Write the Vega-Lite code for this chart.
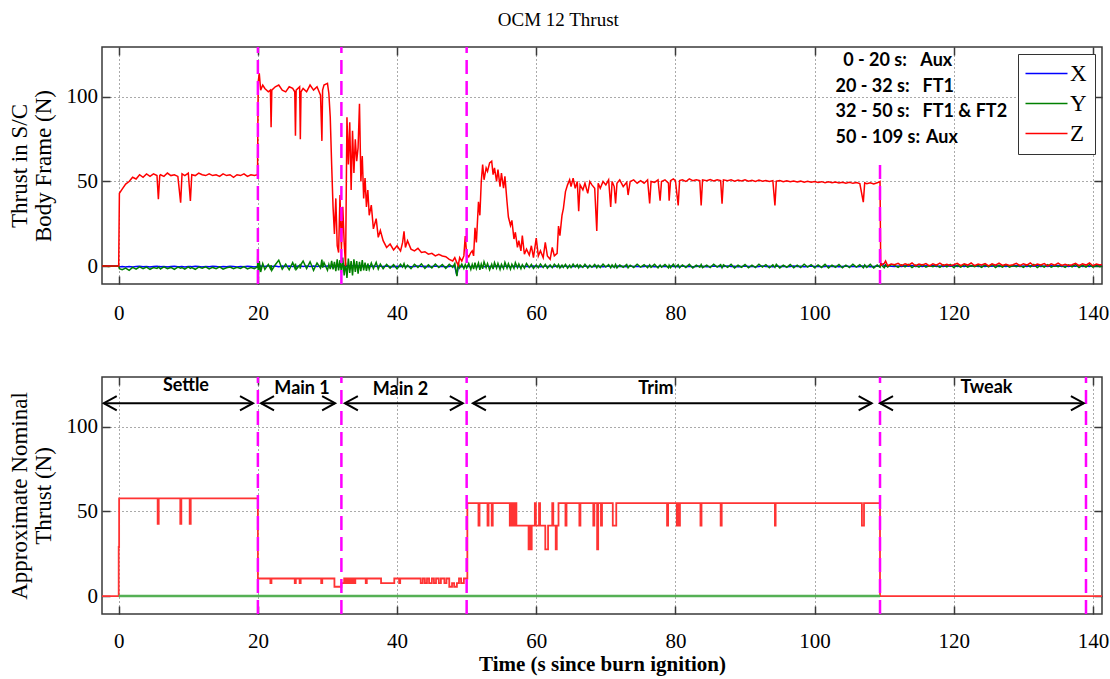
{
  "$schema": "https://vega.github.io/schema/vega-lite/v6.json",
  "background": "white",
  "padding": {"left": 7, "top": 11, "right": 8, "bottom": 5},
  "title": {"text": "OCM 12 Thrust", "font": "Liberation Serif", "fontSize": 19, "fontWeight": "normal", "color": "black", "offset": 15, "anchor": "middle"},
  "config": {
    "view": {"stroke": "#3a3a3a", "strokeWidth": 1.5},
    "axis": {
      "labelFont": "Liberation Serif", "labelFontSize": 21, "labelColor": "black",
      "titleFont": "Liberation Serif", "titleFontSize": 23, "titleFontWeight": "normal", "titleColor": "black",
      "domain": false, "tickSize": -8, "tickColor": "#3a3a3a", "tickWidth": 1.5,
      "grid": true, "gridDash": [1, 3], "gridColor": "#555555", "gridOpacity": 1, "gridWidth": 1
    },
    "legend": {
      "title": null, "orient": "top-right", "offset": 7, "symbolType": "M-3.5,0L3.5,0", "symbolSize": 144,
      "symbolOffset": 9, "symbolStrokeWidth": 1.5, "labelFont": "Liberation Serif", "labelFontSize": 23, "labelColor": "black",
      "labelOffset": 12, "padding": 8, "rowPadding": 6, "strokeColor": "#333333", "fillColor": "white"
    }
  },
  "datasets": {
    "top": [
      {"t":-2.5,"X":0,"Y":0,"Z":0},{"t":-2,"X":0,"Y":0.2,"Z":0},{"t":-1.5,"X":0,"Y":-0.2,"Z":0},{"t":-1,"X":0,"Y":0.1,"Z":0},{"t":-0.5,"X":0,"Y":-0.1,"Z":0},{"t":0,"X":0,"Y":0,"Z":0},
      {"t":0.1,"X":-0.5,"Y":-1.5,"Z":43},{"t":0.5,"X":-0.3,"Y":-2.2,"Z":45.5},{"t":1,"X":-0.6,"Y":-1.2,"Z":48.5},{"t":1.5,"X":-0.2,"Y":-2.5,"Z":50},{"t":2,"X":-0.5,"Y":-0.8,"Z":52.5},{"t":2.5,"X":-0.3,"Y":-1.8,"Z":51.5},{"t":3,"X":-0.1,"Y":-0.5,"Z":54},{"t":3.5,"X":-0.4,"Y":-1.6,"Z":52.5},{"t":4,"X":-0.2,"Y":-0.6,"Z":54.5},{"t":4.5,"X":-0.5,"Y":-1.9,"Z":53},{"t":5,"X":-0.3,"Y":-0.9,"Z":54.5},{"t":5.5,"X":-0.1,"Y":-1.4,"Z":53.5},{"t":5.7,"X":-0.3,"Y":-0.7,"Z":39.5},{"t":5.9,"X":-0.2,"Y":-1.2,"Z":53.5},{"t":6,"X":-0.4,"Y":-1.7,"Z":54},{"t":6.5,"X":-0.2,"Y":-0.4,"Z":53},{"t":7,"X":-0.5,"Y":-1.5,"Z":55},{"t":7.5,"X":-0.3,"Y":-0.8,"Z":53.5},{"t":8,"X":-0.1,"Y":-2,"Z":54},{"t":8.5,"X":-0.4,"Y":-0.6,"Z":53},{"t":8.9,"X":-0.3,"Y":-1.3,"Z":37.5},{"t":9.1,"X":-0.2,"Y":-0.9,"Z":54.5},{"t":9.5,"X":-0.5,"Y":-1.8,"Z":53.5},{"t":10,"X":-0.3,"Y":-0.5,"Z":55},{"t":10.3,"X":-0.2,"Y":-1.4,"Z":38.5},{"t":10.5,"X":-0.4,"Y":-0.9,"Z":54},{"t":11,"X":-0.1,"Y":-1.9,"Z":53.5},{"t":11.5,"X":-0.3,"Y":-0.6,"Z":55},{"t":12,"X":-0.5,"Y":-1.3,"Z":54},{"t":12.5,"X":-0.2,"Y":-0.4,"Z":53.5},{"t":13,"X":-0.4,"Y":-1.7,"Z":54.5},{"t":13.5,"X":-0.1,"Y":-0.8,"Z":53.5},{"t":14,"X":-0.3,"Y":-1.5,"Z":54},{"t":14.5,"X":-0.5,"Y":-0.5,"Z":53},{"t":15,"X":-0.2,"Y":-1.8,"Z":54.5},{"t":15.5,"X":-0.4,"Y":-1,"Z":53.5},{"t":16,"X":-0.1,"Y":-0.6,"Z":54},{"t":16.5,"X":-0.3,"Y":-1.6,"Z":52.5},{"t":17,"X":-0.5,"Y":-0.7,"Z":54},{"t":17.5,"X":-0.2,"Y":-1.4,"Z":53.5},{"t":18,"X":-0.4,"Y":-0.3,"Z":54.5},{"t":18.5,"X":-0.1,"Y":-1.7,"Z":53},{"t":19,"X":-0.3,"Y":-0.9,"Z":54},{"t":19.5,"X":-0.5,"Y":-1.5,"Z":53.5},{"t":19.95,"X":-0.2,"Y":-0.5,"Z":54},
      {"t":20,"X":1.5,"Y":10,"Z":85},{"t":20.05,"X":-1,"Y":-7.5,"Z":109},{"t":20.2,"X":0.8,"Y":3,"Z":114},{"t":20.4,"X":-0.4,"Y":-3.5,"Z":104},{"t":20.7,"X":0.3,"Y":1.5,"Z":107},{"t":21,"X":-0.3,"Y":-2,"Z":105},{"t":21.5,"X":0.2,"Y":1,"Z":103},{"t":21.8,"X":-0.2,"Y":-1.5,"Z":104},{"t":21.9,"X":-0.1,"Y":0.5,"Z":82},{"t":22,"X":-0.3,"Y":-2.5,"Z":104},{"t":22.5,"X":0.1,"Y":0.8,"Z":106},{"t":23,"X":-0.4,"Y":3.5,"Z":107},{"t":23.5,"X":0,"Y":-1.8,"Z":104},{"t":24,"X":-0.2,"Y":1.2,"Z":103},{"t":24.5,"X":0.1,"Y":-2.2,"Z":106},{"t":25,"X":-0.3,"Y":2,"Z":105},{"t":25.3,"X":-0.1,"Y":-1,"Z":103},{"t":25.4,"X":0,"Y":1.5,"Z":77},{"t":25.5,"X":-0.2,"Y":-2,"Z":104},{"t":26,"X":0.1,"Y":0.5,"Z":106},{"t":26.1,"X":-0.2,"Y":-1.5,"Z":75},{"t":26.2,"X":0,"Y":1,"Z":103},{"t":26.5,"X":-0.3,"Y":3,"Z":105},{"t":27,"X":0.1,"Y":-1.5,"Z":103},{"t":27.5,"X":-0.2,"Y":2.5,"Z":107},{"t":28,"X":0,"Y":-2.5,"Z":104},{"t":28.5,"X":-0.3,"Y":1.8,"Z":106},{"t":29,"X":0.1,"Y":-1.2,"Z":101},{"t":29.2,"X":-0.1,"Y":3.8,"Z":74},{"t":29.3,"X":0,"Y":-1,"Z":104},{"t":29.5,"X":-0.2,"Y":2,"Z":107},{"t":30,"X":0.1,"Y":-2.5,"Z":108},{"t":30.2,"X":-0.2,"Y":1,"Z":102},{"t":30.4,"X":0,"Y":-1.8,"Z":88},{"t":30.6,"X":-0.3,"Y":3,"Z":60},{"t":30.8,"X":0.2,"Y":-2,"Z":35},{"t":31,"X":-0.4,"Y":2.5,"Z":19},{"t":31.2,"X":0.3,"Y":-3,"Z":40},{"t":31.4,"X":-0.2,"Y":4,"Z":12},{"t":31.6,"X":0.1,"Y":-2.5,"Z":8},{"t":31.8,"X":-0.5,"Y":3.5,"Z":42},{"t":32,"X":0.4,"Y":-4,"Z":10},{"t":32.2,"X":-0.3,"Y":5,"Z":35},{"t":32.4,"X":0.2,"Y":-5.5,"Z":14},{"t":32.6,"X":-0.4,"Y":2,"Z":0},{"t":32.8,"X":0.3,"Y":-7,"Z":88},{"t":33,"X":-0.2,"Y":4.5,"Z":60},{"t":33.2,"X":0.1,"Y":-4,"Z":85},{"t":33.4,"X":-0.3,"Y":3,"Z":45},{"t":33.6,"X":0.2,"Y":-5.5,"Z":80},{"t":33.8,"X":-0.1,"Y":4,"Z":55},{"t":34,"X":0.3,"Y":-3.5,"Z":75},{"t":34.2,"X":-0.4,"Y":3,"Z":62},{"t":34.4,"X":0.1,"Y":-4.5,"Z":70},{"t":34.6,"X":-0.2,"Y":2.5,"Z":96},{"t":34.8,"X":0.2,"Y":-3,"Z":50},{"t":35,"X":-0.3,"Y":3.5,"Z":65},{"t":35.2,"X":0.1,"Y":-2.5,"Z":40},{"t":35.4,"X":-0.2,"Y":2,"Z":52},{"t":35.6,"X":0,"Y":-2.8,"Z":35},{"t":35.8,"X":-0.3,"Y":1.5,"Z":45},{"t":36,"X":0.1,"Y":-2,"Z":30},{"t":36.3,"X":-0.2,"Y":1.8,"Z":36},{"t":36.6,"X":0,"Y":-1.5,"Z":22},{"t":37,"X":-0.3,"Y":2.2,"Z":28},{"t":37.3,"X":0.1,"Y":-1.8,"Z":17},{"t":37.6,"X":-0.1,"Y":1.2,"Z":21},{"t":38,"X":-0.3,"Y":-1.5,"Z":15},{"t":38.5,"X":0,"Y":1,"Z":11},{"t":39,"X":-0.2,"Y":-1.2,"Z":13},{"t":39.5,"X":-0.4,"Y":0.8,"Z":9.5},{"t":40,"X":-0.1,"Y":-1.6,"Z":12},{"t":40.5,"X":-0.3,"Y":1.1,"Z":9},{"t":40.8,"X":-0.2,"Y":-0.6,"Z":14},{"t":41,"X":0,"Y":1.4,"Z":20.5},{"t":41.2,"X":-0.3,"Y":-1.2,"Z":11},{"t":41.5,"X":-0.1,"Y":0.6,"Z":15},{"t":42,"X":-0.4,"Y":-1.5,"Z":10},{"t":42.5,"X":-0.2,"Y":1,"Z":9},{"t":43,"X":0,"Y":-0.8,"Z":10.5},{"t":43.5,"X":-0.3,"Y":1.3,"Z":8},{"t":44,"X":-0.1,"Y":-1.4,"Z":8.5},{"t":44.5,"X":-0.4,"Y":0.7,"Z":7},{"t":45,"X":-0.2,"Y":-1.1,"Z":7.5},{"t":45.5,"X":0,"Y":1.2,"Z":6},{"t":46,"X":-0.3,"Y":-0.9,"Z":7},{"t":46.5,"X":-0.1,"Y":0.9,"Z":6},{"t":47,"X":-0.4,"Y":-1.3,"Z":5.5},{"t":47.5,"X":-0.2,"Y":1,"Z":4},{"t":48,"X":0,"Y":-0.7,"Z":3},{"t":48.3,"X":-0.5,"Y":1.5,"Z":5},{"t":48.6,"X":-5.5,"Y":-6,"Z":2},{"t":48.8,"X":-0.3,"Y":1.8,"Z":0.5},{"t":49,"X":-0.1,"Y":-1,"Z":5},{"t":49.3,"X":-0.4,"Y":1.2,"Z":3},{"t":49.6,"X":-0.2,"Y":-1.5,"Z":6},{"t":49.8,"X":0,"Y":0.8,"Z":17.7},
      {"t":50,"X":-0.3,"Y":-1.2,"Z":7},{"t":50.3,"X":-0.1,"Y":1.5,"Z":5.5},{"t":50.6,"X":-0.4,"Y":-2,"Z":8},{"t":50.8,"X":0,"Y":1,"Z":9},{"t":51,"X":-0.3,"Y":-1.8,"Z":6},{"t":51.2,"X":-0.1,"Y":2,"Z":22.6},{"t":51.4,"X":-0.4,"Y":-1.5,"Z":14},{"t":51.7,"X":-0.2,"Y":1.8,"Z":38},{"t":51.9,"X":0,"Y":-2.2,"Z":30},{"t":52.1,"X":-0.3,"Y":1.2,"Z":50},{"t":52.3,"X":-0.1,"Y":-1.6,"Z":60},{"t":52.5,"X":-0.4,"Y":2.5,"Z":51},{"t":52.8,"X":-0.2,"Y":-1,"Z":58},{"t":53,"X":0,"Y":1.5,"Z":56},{"t":53.3,"X":-0.3,"Y":-2.2,"Z":61},{"t":53.6,"X":-0.1,"Y":1,"Z":62},{"t":53.8,"X":-0.4,"Y":-1.8,"Z":54},{"t":54,"X":-0.2,"Y":2,"Z":58},{"t":54.3,"X":0,"Y":-1.2,"Z":50},{"t":54.5,"X":-0.3,"Y":1.6,"Z":57},{"t":54.8,"X":-0.1,"Y":-2,"Z":47},{"t":55,"X":-0.4,"Y":1,"Z":55},{"t":55.3,"X":-0.2,"Y":-1.5,"Z":46},{"t":55.5,"X":0,"Y":2.2,"Z":53},{"t":55.8,"X":-0.3,"Y":-1.2,"Z":38},{"t":56,"X":-0.1,"Y":1.4,"Z":29},{"t":56.3,"X":-0.4,"Y":-1.8,"Z":24},{"t":56.5,"X":-0.2,"Y":1,"Z":27},{"t":56.8,"X":0,"Y":-1.4,"Z":16},{"t":57,"X":-0.3,"Y":2,"Z":20},{"t":57.3,"X":-0.1,"Y":-1,"Z":11},{"t":57.5,"X":-0.4,"Y":1.2,"Z":15},{"t":57.8,"X":-0.2,"Y":-1.6,"Z":9},{"t":58,"X":0,"Y":0.8,"Z":18},{"t":58.3,"X":-0.3,"Y":-1.2,"Z":7},{"t":58.6,"X":-0.1,"Y":1.5,"Z":10},{"t":59,"X":-0.4,"Y":-0.8,"Z":6.5},{"t":59.3,"X":-0.2,"Y":1,"Z":12},{"t":59.6,"X":0,"Y":-1.4,"Z":5},{"t":60,"X":-0.3,"Y":0.6,"Z":16.5},{"t":60.3,"X":-0.1,"Y":-1,"Z":6},{"t":60.6,"X":-0.4,"Y":1.2,"Z":9},{"t":61,"X":-0.2,"Y":-0.8,"Z":5},{"t":61.3,"X":0,"Y":1,"Z":14},{"t":61.6,"X":-0.3,"Y":-1.2,"Z":6},{"t":62,"X":-0.1,"Y":0.7,"Z":4},{"t":62.3,"X":-0.4,"Y":-0.9,"Z":11},{"t":62.6,"X":-0.2,"Y":1.1,"Z":6},{"t":63,"X":0,"Y":-0.7,"Z":7.5},{"t":63.2,"X":-0.3,"Y":0.9,"Z":23.6},{"t":63.4,"X":-0.1,"Y":-1.1,"Z":18},{"t":63.7,"X":-0.4,"Y":0.6,"Z":30},{"t":63.9,"X":-0.2,"Y":-0.8,"Z":34},{"t":64.2,"X":0,"Y":1,"Z":44},{"t":64.5,"X":-0.3,"Y":-1.2,"Z":48},{"t":64.8,"X":-0.1,"Y":0.5,"Z":51},{"t":65,"X":-0.4,"Y":-0.9,"Z":47},{"t":65.3,"X":-0.2,"Y":1.1,"Z":52},{"t":65.6,"X":0,"Y":-0.6,"Z":46},{"t":65.9,"X":-0.3,"Y":0.8,"Z":50},{"t":66.1,"X":-0.1,"Y":-1,"Z":32.5},{"t":66.3,"X":-0.4,"Y":0.7,"Z":48},{"t":66.7,"X":-0.2,"Y":-0.8,"Z":45},{"t":67,"X":0,"Y":1,"Z":49},{"t":67.4,"X":-0.3,"Y":-1.1,"Z":43},{"t":67.7,"X":-0.1,"Y":0.6,"Z":50},{"t":68,"X":-0.4,"Y":-0.7,"Z":48},{"t":68.4,"X":-0.2,"Y":0.9,"Z":46},{"t":68.7,"X":0,"Y":-1,"Z":20.7},{"t":68.9,"X":-0.3,"Y":0.5,"Z":49},{"t":69.2,"X":-0.1,"Y":-0.9,"Z":46},{"t":69.6,"X":-0.4,"Y":1.1,"Z":50},{"t":70,"X":-0.2,"Y":-0.6,"Z":48},{"t":70.4,"X":0,"Y":0.8,"Z":51},{"t":70.7,"X":-0.3,"Y":-1,"Z":35},{"t":70.9,"X":-0.1,"Y":0.7,"Z":50},{"t":71.2,"X":-0.4,"Y":-0.8,"Z":47},{"t":71.4,"X":-0.2,"Y":1,"Z":37},{"t":71.6,"X":0,"Y":-1.1,"Z":49},{"t":72,"X":-0.3,"Y":0.6,"Z":51},{"t":72.5,"X":-0.1,"Y":-0.7,"Z":47},{"t":73,"X":-0.4,"Y":0.9,"Z":49.5},{"t":73.2,"X":-0.2,"Y":-1,"Z":42},{"t":73.5,"X":0,"Y":0.5,"Z":50},{"t":74,"X":-0.3,"Y":-0.9,"Z":51},{"t":74.5,"X":-0.1,"Y":1.1,"Z":49},{"t":75,"X":-0.4,"Y":-0.6,"Z":50.5},{"t":75.5,"X":-0.2,"Y":0.8,"Z":49},{"t":76,"X":0,"Y":-1,"Z":51},{"t":76.3,"X":-0.3,"Y":0.7,"Z":37},{"t":76.5,"X":-0.1,"Y":-0.8,"Z":50},{"t":77,"X":-0.4,"Y":1,"Z":49.5},{"t":77.5,"X":-0.2,"Y":-1.1,"Z":51},{"t":77.8,"X":0,"Y":0.6,"Z":38.6},{"t":78,"X":-0.3,"Y":-0.7,"Z":50},{"t":78.5,"X":-0.1,"Y":0.9,"Z":51},{"t":79,"X":-0.4,"Y":-1,"Z":49},{"t":79.1,"X":-0.2,"Y":0.5,"Z":38.6},{"t":79.3,"X":0,"Y":-0.9,"Z":50.5},{"t":79.7,"X":-0.3,"Y":1.1,"Z":51.5},{"t":80,"X":-0.1,"Y":-0.6,"Z":50.5},{"t":80.4,"X":-0.4,"Y":0.8,"Z":35.8},{"t":80.6,"X":-0.2,"Y":-1,"Z":50.5},{"t":81,"X":0,"Y":0.7,"Z":51},{"t":81.5,"X":-0.3,"Y":-0.8,"Z":50},{"t":82,"X":-0.1,"Y":1,"Z":51.5},{"t":82.5,"X":-0.4,"Y":-1.1,"Z":50.5},{"t":83,"X":-0.2,"Y":0.6,"Z":51},{"t":83.5,"X":0,"Y":-0.7,"Z":50.5},{"t":83.7,"X":-0.3,"Y":0.9,"Z":35.8},{"t":83.9,"X":-0.1,"Y":-1,"Z":51},{"t":84.5,"X":-0.4,"Y":0.5,"Z":50.5},{"t":85,"X":-0.2,"Y":-0.9,"Z":51.2},{"t":85.5,"X":0,"Y":1.1,"Z":50.3},{"t":86,"X":-0.3,"Y":-0.6,"Z":51},{"t":86.5,"X":-0.1,"Y":0.8,"Z":50.5},{"t":86.7,"X":-0.4,"Y":-1,"Z":36.8},{"t":86.9,"X":-0.2,"Y":0.7,"Z":51},{"t":87.5,"X":0,"Y":-0.8,"Z":50.5},{"t":88,"X":-0.3,"Y":1,"Z":51},{"t":88.5,"X":-0.1,"Y":-1.1,"Z":50.2},{"t":89,"X":-0.4,"Y":0.6,"Z":50.8},{"t":89.5,"X":-0.2,"Y":-0.7,"Z":50.3},{"t":90,"X":0,"Y":0.9,"Z":51},{"t":90.5,"X":-0.3,"Y":-1,"Z":50.2},{"t":91,"X":-0.1,"Y":0.5,"Z":50.7},{"t":91.5,"X":-0.4,"Y":-0.9,"Z":50},{"t":92,"X":-0.2,"Y":1.1,"Z":50.8},{"t":92.5,"X":0,"Y":-0.6,"Z":50.1},{"t":93,"X":-0.3,"Y":0.8,"Z":50.6},{"t":93.5,"X":-0.1,"Y":-1,"Z":50},{"t":94,"X":-0.4,"Y":0.7,"Z":50.5},{"t":94.3,"X":-0.2,"Y":-0.8,"Z":35.8},{"t":94.5,"X":0,"Y":1,"Z":50.2},{"t":95,"X":-0.3,"Y":-1.1,"Z":50.6},{"t":95.5,"X":-0.1,"Y":0.6,"Z":49.9},{"t":96,"X":-0.4,"Y":-0.7,"Z":50.4},{"t":96.5,"X":-0.2,"Y":0.9,"Z":49.8},{"t":97,"X":0,"Y":-1,"Z":50.3},{"t":97.5,"X":-0.3,"Y":0.5,"Z":49.7},{"t":98,"X":-0.1,"Y":-0.9,"Z":50.2},{"t":98.5,"X":-0.4,"Y":1.1,"Z":49.6},{"t":99,"X":-0.2,"Y":-0.6,"Z":50.1},{"t":99.5,"X":0,"Y":0.8,"Z":49.5},{"t":100,"X":-0.3,"Y":-1,"Z":50},{"t":100.5,"X":-0.1,"Y":0.7,"Z":49.4},{"t":101,"X":-0.4,"Y":-0.8,"Z":49.9},{"t":101.5,"X":-0.2,"Y":1,"Z":49.3},{"t":102,"X":0,"Y":-1.1,"Z":49.8},{"t":102.5,"X":-0.3,"Y":0.6,"Z":49.2},{"t":103,"X":-0.1,"Y":-0.7,"Z":49.7},{"t":103.5,"X":-0.4,"Y":0.9,"Z":49.1},{"t":104,"X":-0.2,"Y":-1,"Z":49.6},{"t":104.5,"X":0,"Y":0.5,"Z":49},{"t":105,"X":-0.3,"Y":-0.9,"Z":49.5},{"t":105.5,"X":-0.1,"Y":1.1,"Z":48.9},{"t":106,"X":-0.4,"Y":-0.6,"Z":49.4},{"t":106.5,"X":-0.2,"Y":0.8,"Z":48.8},{"t":107,"X":0,"Y":-1,"Z":37.8},{"t":107.2,"X":-0.3,"Y":0.7,"Z":49.2},{"t":107.5,"X":-0.1,"Y":-0.8,"Z":48.7},{"t":108,"X":-0.4,"Y":1,"Z":49.3},{"t":108.5,"X":-0.2,"Y":-1.1,"Z":48.6},{"t":109,"X":0,"Y":0.6,"Z":49.2},{"t":109.4,"X":-0.3,"Y":-0.7,"Z":50},
      {"t":109.5,"X":1.5,"Y":0.9,"Z":0.5},{"t":110,"X":0.4,"Y":-1,"Z":1.5},{"t":110.2,"X":-0.2,"Y":0.8,"Z":3},{"t":110.5,"X":0.3,"Y":-0.6,"Z":0.2},{"t":111,"X":-0.1,"Y":0.9,"Z":1.2},{"t":111.5,"X":-0.2,"Y":0.4,"Z":0.8},{"t":112,"X":0.1,"Y":-0.8,"Z":1.6},{"t":112.5,"X":-0.3,"Y":0.7,"Z":0.3},{"t":113,"X":0.2,"Y":-0.5,"Z":1.4},{"t":113.5,"X":-0.1,"Y":0.9,"Z":0.6},{"t":114,"X":0.3,"Y":-0.9,"Z":1.8},{"t":114.5,"X":-0.2,"Y":0.5,"Z":0.2},{"t":115,"X":0.1,"Y":-0.6,"Z":1.2},{"t":115.5,"X":-0.3,"Y":0.8,"Z":0.7},{"t":116,"X":0.2,"Y":-0.7,"Z":1.5},{"t":116.5,"X":-0.1,"Y":0.3,"Z":0.1},{"t":117,"X":0.3,"Y":-0.4,"Z":1.3},{"t":117.5,"X":-0.2,"Y":0.4,"Z":0.5},{"t":118,"X":0.1,"Y":-0.8,"Z":1.7},{"t":118.5,"X":-0.3,"Y":0.7,"Z":0.4},{"t":119,"X":0.2,"Y":-0.5,"Z":1.1},{"t":119.5,"X":-0.1,"Y":0.9,"Z":0.3},{"t":120,"X":0.3,"Y":-0.9,"Z":0.8},{"t":120.5,"X":-0.2,"Y":0.5,"Z":1.6},{"t":121,"X":0.1,"Y":-0.6,"Z":0.3},{"t":121.5,"X":-0.3,"Y":0.8,"Z":1.4},{"t":122,"X":0.2,"Y":-0.7,"Z":0.6},{"t":122.5,"X":-0.1,"Y":0.3,"Z":1.8},{"t":123,"X":0.3,"Y":-0.4,"Z":0.2},{"t":123.5,"X":-0.2,"Y":0.4,"Z":1.2},{"t":124,"X":0.1,"Y":-0.8,"Z":0.7},{"t":124.5,"X":-0.3,"Y":0.7,"Z":1.5},{"t":125,"X":0.2,"Y":-0.5,"Z":0.1},{"t":125.5,"X":-0.1,"Y":0.9,"Z":1.3},{"t":126,"X":0.3,"Y":-0.9,"Z":0.5},{"t":126.5,"X":-0.2,"Y":0.5,"Z":1.7},{"t":127,"X":0.1,"Y":-0.6,"Z":0.4},{"t":127.5,"X":-0.3,"Y":0.8,"Z":1.1},{"t":128,"X":0.2,"Y":-0.7,"Z":0.3},{"t":128.5,"X":-0.1,"Y":0.3,"Z":0.8},{"t":129,"X":0.3,"Y":-0.4,"Z":1.6},{"t":129.5,"X":-0.2,"Y":0.4,"Z":0.3},{"t":130,"X":0.1,"Y":-0.8,"Z":1.4},{"t":130.5,"X":-0.3,"Y":0.7,"Z":0.6},{"t":131,"X":0.2,"Y":-0.5,"Z":1.8},{"t":131.5,"X":-0.1,"Y":0.9,"Z":0.2},{"t":132,"X":0.3,"Y":-0.9,"Z":1.2},{"t":132.5,"X":-0.2,"Y":0.5,"Z":0.7},{"t":133,"X":0.1,"Y":-0.6,"Z":1.5},{"t":133.5,"X":-0.3,"Y":0.8,"Z":0.1},{"t":134,"X":0.2,"Y":-0.7,"Z":1.3},{"t":134.5,"X":-0.1,"Y":0.3,"Z":0.5},{"t":135,"X":0.3,"Y":-0.4,"Z":1.7},{"t":135.5,"X":-0.2,"Y":0.4,"Z":0.4},{"t":136,"X":0.1,"Y":-0.8,"Z":1.1},{"t":136.5,"X":-0.3,"Y":0.7,"Z":0.3},{"t":137,"X":0.2,"Y":-0.5,"Z":0.8},{"t":137.5,"X":-0.1,"Y":0.9,"Z":1.6},{"t":138,"X":0.3,"Y":-0.9,"Z":0.3},{"t":138.5,"X":-0.2,"Y":0.5,"Z":1.4},{"t":139,"X":0.1,"Y":-0.6,"Z":0.6},{"t":139.5,"X":-0.3,"Y":0.8,"Z":1.8},{"t":140,"X":0.2,"Y":-0.7,"Z":0.2},{"t":140.5,"X":-0.1,"Y":0.3,"Z":1.2},{"t":141,"X":0.3,"Y":-0.4,"Z":0.7},{"t":141.5,"X":-0.2,"Y":0.4,"Z":1}
    ],
    "nominal": [
      {"t":-2.5,"v":0},{"t":0,"v":29},{"t":0.06,"v":57.7},{"t":5.6,"v":42.7},{"t":5.75,"v":57.7},{"t":8.85,"v":42.7},{"t":9,"v":57.7},{"t":10.2,"v":42.7},{"t":10.35,"v":57.7},
      {"t":20,"v":10.4},{"t":21.8,"v":7.6},{"t":21.95,"v":10.4},{"t":25.3,"v":7.6},{"t":25.45,"v":10.4},{"t":26,"v":7.6},{"t":26.15,"v":10.4},{"t":29.1,"v":7.6},{"t":29.25,"v":10.4},{"t":31,"v":5.5},
      {"t":32,"v":7.6},{"t":32.4,"v":10.4},{"t":32.6,"v":7.6},{"t":32.8,"v":10.4},{"t":33,"v":7.6},{"t":33.2,"v":10.4},{"t":33.4,"v":7.6},{"t":33.6,"v":10.4},{"t":33.8,"v":7.6},{"t":34,"v":10.4},{"t":35.5,"v":7.6},{"t":35.65,"v":10.4},{"t":37.7,"v":7.6},{"t":39.6,"v":10.4},{"t":40.3,"v":7.6},{"t":40.45,"v":10.4},{"t":43.4,"v":7.6},{"t":43.7,"v":10.4},{"t":44,"v":7.6},{"t":44.3,"v":10.4},{"t":44.6,"v":7.6},{"t":45,"v":10.4},{"t":45.3,"v":7.6},{"t":45.6,"v":10.4},{"t":46,"v":7.6},{"t":46.3,"v":10.4},{"t":46.8,"v":7.6},{"t":47.1,"v":10.4},{"t":47.5,"v":5.5},{"t":47.9,"v":7.6},{"t":48.2,"v":5.5},{"t":48.6,"v":7.6},{"t":48.9,"v":10.4},{"t":49.2,"v":7.6},{"t":49.6,"v":10.4},
      {"t":50.1,"v":55},{"t":51.7,"v":41.7},{"t":51.85,"v":55},{"t":53,"v":41.7},{"t":53.15,"v":55},{"t":53.6,"v":41.7},{"t":53.75,"v":55},{"t":56.2,"v":41.7},{"t":56.35,"v":55},{"t":56.5,"v":41.7},{"t":56.65,"v":55},{"t":56.8,"v":41.7},{"t":57,"v":55},{"t":57.15,"v":41.7},{"t":58.9,"v":27.6},{"t":59.05,"v":41.7},{"t":59.2,"v":27.6},{"t":59.35,"v":41.7},{"t":59.8,"v":55},{"t":59.95,"v":41.7},{"t":60.4,"v":55},{"t":60.55,"v":41.7},{"t":61.3,"v":27.6},{"t":61.7,"v":41.7},{"t":62.3,"v":55},{"t":62.45,"v":41.7},{"t":62.8,"v":27.6},{"t":62.95,"v":41.7},{"t":63.2,"v":55},
      {"t":64.2,"v":41.7},{"t":64.35,"v":55},{"t":66.2,"v":41.7},{"t":66.35,"v":55},{"t":68.2,"v":41.7},{"t":68.35,"v":55},{"t":68.75,"v":27.6},{"t":68.9,"v":55},{"t":69.3,"v":41.7},{"t":69.45,"v":55},{"t":71,"v":41.7},{"t":71.5,"v":55},{"t":78.8,"v":41.7},{"t":78.95,"v":55},{"t":80.2,"v":41.7},{"t":80.35,"v":55},{"t":80.5,"v":41.7},{"t":80.65,"v":55},{"t":83.6,"v":41.7},{"t":83.75,"v":55},{"t":86.5,"v":41.7},{"t":86.65,"v":55},{"t":94.3,"v":41.7},{"t":94.4,"v":55},{"t":106.8,"v":41.7},{"t":107.1,"v":55},{"t":109.4,"v":0},{"t":141.5,"v":0}
    ],
    "nominalXY": [{"t":0,"v":0},{"t":109.4,"v":0}],
    "vlines": [
      {"panel":"top","t":20,"y1":-10.6,"y2":129.5},{"panel":"top","t":32,"y1":-10.6,"y2":129.5},{"panel":"top","t":50,"y1":-10.6,"y2":129.5},{"panel":"top","t":109.4,"y1":-10.6,"y2":63},
      {"panel":"bottom","t":20,"y1":-10.6,"y2":129.5},{"panel":"bottom","t":32,"y1":-10.6,"y2":129.5},{"panel":"bottom","t":50,"y1":-10.6,"y2":129.5},{"panel":"bottom","t":109.4,"y1":-10.6,"y2":129.5},{"panel":"bottom","t":139,"y1":-10.6,"y2":129.5}
    ],
    "notes": [
      {"k":"0 - 20 s:","v":"Aux","kx":104.1,"vx":115.2,"y":121},
      {"k":"20 - 32 s:","v":"FT1","kx":103,"vx":115.5,"y":105.7},
      {"k":"32 - 50 s:","v":"FT1 & FT2","kx":103,"vx":115.5,"y":91},
      {"k":"50 - 109 s:","v":"Aux","kx":103,"vx":116,"y":75.8}
    ],
    "phases": [
      {"phase":"Settle","x1":-2.15,"x2":19.3,"lx":9.66,"ly":123.9,"ay":114},
      {"phase":"Main 1","x1":20.45,"x2":31.1,"lx":26.35,"ly":122.5,"ay":114},
      {"phase":"Main 2","x1":32.5,"x2":49.45,"lx":40.5,"ly":122,"ay":114},
      {"phase":"Trim","x1":50.9,"x2":108.2,"lx":77.2,"ly":122.5,"ay":114},
      {"phase":"Tweak","x1":109.4,"x2":138.7,"lx":124.7,"ly":122.9,"ay":114}
    ]
  },
  "bounds": "flush",
  "spacing": 93,
  "vconcat": [
    {
      "width": 1000,
      "height": 237,
      "layer": [
        {
          "data": {"name": "top"},
          "transform": [{"fold": ["X", "Y", "Z"], "as": ["series", "thrust"]}],
          "mark": {"type": "line", "strokeWidth": 1.5, "clip": true},
          "encoding": {
            "x": {"field": "t", "type": "quantitative", "scale": {"domain": [-2.4, 141.3], "nice": false, "zero": false},
                  "axis": {"values": [0, 20, 40, 60, 80, 100, 120, 140], "title": null, "labelPadding": 26}},
            "y": {"field": "thrust", "type": "quantitative", "scale": {"domain": [-10.6, 129.5], "nice": false, "zero": false},
                  "axis": {"values": [0, 50, 100], "title": ["Thrust in S/C", "Body Frame (N)"], "labelPadding": 12.5, "titlePadding": 11, "titleLineHeight": 24}},
            "color": {"field": "series", "type": "nominal", "scale": {"domain": ["X", "Y", "Z"], "range": ["#0000ff", "#008000", "#ff0000"]}},
            "order": {"field": "t", "type": "quantitative"}
          }
        },
        {
          "data": {"name": "vlines"},
          "transform": [{"filter": "datum.panel == 'top'"}],
          "mark": {"type": "rule", "color": "#ff00ff", "strokeWidth": 2.5, "strokeDash": [14, 7]},
          "encoding": {
            "x": {"field": "t", "type": "quantitative", "axis": {"orient": "top", "labels": false, "grid": false, "title": null, "values": [0, 20, 40, 60, 80, 100, 120, 140]}},
            "y": {"field": "y1", "type": "quantitative", "axis": {"orient": "right", "labels": false, "grid": false, "title": null, "values": [0, 50, 100]}},
            "y2": {"field": "y2"}
          }
        },
        {
          "data": {"name": "notes"},
          "mark": {"type": "text", "font": "Lato", "fontWeight": "bold", "fontSize": 18, "align": "left", "baseline": "middle", "color": "black"},
          "encoding": {
            "x": {"field": "kx", "type": "quantitative", "axis": null},
            "y": {"field": "y", "type": "quantitative", "axis": null},
            "text": {"field": "k"}
          }
        },
        {
          "data": {"name": "notes"},
          "mark": {"type": "text", "font": "Lato", "fontWeight": "bold", "fontSize": 18, "align": "left", "baseline": "middle", "color": "black"},
          "encoding": {
            "x": {"field": "vx", "type": "quantitative", "axis": null},
            "y": {"field": "y", "type": "quantitative", "axis": null},
            "text": {"field": "v"}
          }
        }
      ],
      "resolve": {"axis": {"x": "independent", "y": "independent"}}
    },
    {
      "width": 1000,
      "height": 237,
      "layer": [
        {
          "data": {"name": "nominal"},
          "mark": {"type": "line", "color": "#ff3333", "strokeWidth": 1.8, "interpolate": "step-after", "clip": true},
          "encoding": {
            "x": {"field": "t", "type": "quantitative", "scale": {"domain": [-2.4, 141.3], "nice": false, "zero": false},
                  "axis": {"values": [0, 20, 40, 60, 80, 100, 120, 140], "title": "Time (s since burn ignition)", "titleFontWeight": "bold", "titleFontSize": 21, "labelPadding": 24, "titlePadding": 2}},
            "y": {"field": "v", "type": "quantitative", "scale": {"domain": [-10.6, 129.5], "nice": false, "zero": false},
                  "axis": {"values": [0, 50, 100], "title": ["Approximate Nominal", "Thrust (N)"], "labelPadding": 12.5, "titlePadding": 11, "titleLineHeight": 24}}
          }
        },
        {
          "data": {"name": "nominalXY"},
          "mark": {"type": "line", "color": "#55b055", "strokeWidth": 2.5},
          "encoding": {
            "x": {"field": "t", "type": "quantitative", "axis": null},
            "y": {"field": "v", "type": "quantitative", "axis": null}
          }
        },
        {
          "data": {"name": "vlines"},
          "transform": [{"filter": "datum.panel == 'bottom'"}],
          "mark": {"type": "rule", "color": "#ff00ff", "strokeWidth": 2.5, "strokeDash": [14, 7]},
          "encoding": {
            "x": {"field": "t", "type": "quantitative", "axis": {"orient": "top", "labels": false, "grid": false, "title": null, "values": [0, 20, 40, 60, 80, 100, 120, 140]}},
            "y": {"field": "y1", "type": "quantitative", "axis": {"orient": "right", "labels": false, "grid": false, "title": null, "values": [0, 50, 100]}},
            "y2": {"field": "y2"}
          }
        },
        {
          "data": {"name": "phases"},
          "mark": {"type": "rule", "color": "black", "strokeWidth": 2},
          "encoding": {
            "x": {"field": "x1", "type": "quantitative", "axis": null},
            "x2": {"field": "x2"},
            "y": {"field": "ay", "type": "quantitative", "axis": null}
          }
        },
        {
          "data": {"name": "phases"},
          "mark": {"type": "point", "shape": "M1,-0.55L0,0L1,0.55", "size": 676, "filled": false, "stroke": "black", "strokeWidth": 2, "opacity": 1},
          "encoding": {
            "x": {"field": "x1", "type": "quantitative", "axis": null},
            "y": {"field": "ay", "type": "quantitative", "axis": null}
          }
        },
        {
          "data": {"name": "phases"},
          "mark": {"type": "point", "shape": "M-1,-0.55L0,0L-1,0.55", "size": 676, "filled": false, "stroke": "black", "strokeWidth": 2, "opacity": 1},
          "encoding": {
            "x": {"field": "x2", "type": "quantitative", "axis": null},
            "y": {"field": "ay", "type": "quantitative", "axis": null}
          }
        },
        {
          "data": {"name": "phases"},
          "mark": {"type": "text", "font": "Lato", "fontWeight": "bold", "fontSize": 18, "align": "center", "baseline": "middle", "color": "black"},
          "encoding": {
            "x": {"field": "lx", "type": "quantitative", "axis": null},
            "y": {"field": "ly", "type": "quantitative", "axis": null},
            "text": {"field": "phase"}
          }
        }
      ],
      "resolve": {"axis": {"x": "independent", "y": "independent"}}
    }
  ]
}
